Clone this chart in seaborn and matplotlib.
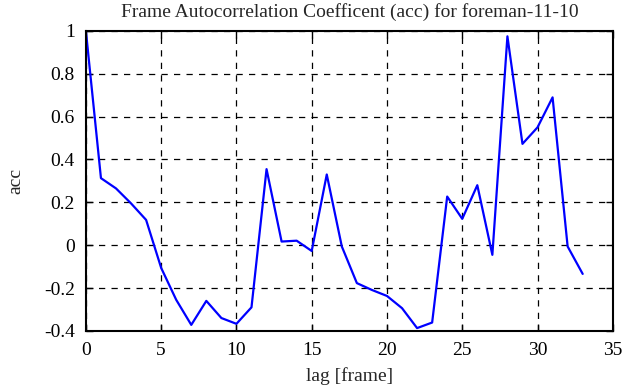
import matplotlib
matplotlib.use("Agg")
import matplotlib.pyplot as plt
import seaborn as sns
import pandas as pd

lags = list(range(34))
acc = [1.0, 0.313, 0.265, 0.195, 0.118, -0.106, -0.255, -0.372, -0.26, -0.34,
       -0.367, -0.29, 0.355, 0.017, 0.021, -0.027, 0.33, -0.006, -0.177, -0.209,
       -0.237, -0.294, -0.387, -0.361, 0.227, 0.123, 0.28, -0.045, 0.975, 0.473,
       0.55, 0.69, -0.006, -0.134]
xticks = [0, 5, 10, 15, 20, 25, 30, 35]
yticks = [-0.4, -0.2, 0, 0.2, 0.4, 0.6, 0.8, 1]
ytick_labels = ["-0.4", "-0.2", "0", "0.2", "0.4", "0.6", "0.8", "1"]

sns.set_style("white")
plt.rcParams['font.family'] = ['Liberation Serif', 'DejaVu Serif']

df = pd.DataFrame({"lag": lags, "acc": acc})
fig = plt.figure(figsize=(6.41, 3.87), dpi=100)
ax = fig.add_axes([0.134, 0.145, 0.822, 0.775])
sns.lineplot(data=df, x="lag", y="acc", ax=ax, color="#0000ff", linewidth=1.6)
ax.set_xlim(0, 35)
ax.set_ylim(-0.4, 1)
ax.set_xticks(xticks)
ax.set_xticklabels([str(t) for t in xticks])
ax.set_yticks(yticks)
ax.set_yticklabels(ytick_labels)
ax.grid(True, linestyle=(0, (5, 5)), color="black", linewidth=0.9)
ax.tick_params(direction="in", length=5, width=1, labelsize=14, colors="black",
               top=True, right=True, bottom=True, left=True)
ax.tick_params(axis="x", pad=8)
ax.tick_params(axis="y", pad=8)
for s in ax.spines.values():
    s.set_visible(True)
    s.set_color("black")
    s.set_linewidth(1.5)
ax.set_xlabel("lag [frame]", fontsize=14, labelpad=6)
ax.set_ylabel("acc", fontsize=14, labelpad=14)
ax.set_title("Frame Autocorrelation Coefficent (acc) for foreman-11-10", fontsize=14, pad=10)
fig.savefig("out.png", dpi=100)
